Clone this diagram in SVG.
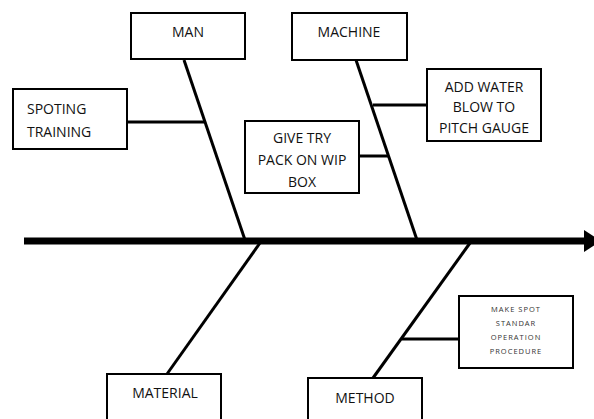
<svg xmlns="http://www.w3.org/2000/svg" width="594" height="419" viewBox="0 0 594 419">
<style>
.box{fill:#fff;stroke:#000;stroke-width:2}
.t{font-family:"Open Sans","Liberation Sans",sans-serif;font-size:14px;fill:#111;text-anchor:middle}
.s{font-family:"Open Sans","Liberation Sans",sans-serif;font-size:7.5px;letter-spacing:1px;fill:#333;text-anchor:middle}
.ln{stroke:#000;stroke-width:3;fill:none}
</style>
<rect width="594" height="419" fill="#fff"/>
<g id="connectors">
<line x1="24" y1="241" x2="586" y2="241" stroke="#000" stroke-width="7"/>
<path d="M584,230 L601,241 L584,252 z" fill="#000"/>
<line class="ln" x1="184" y1="60" x2="245" y2="240"/>
<line class="ln" x1="356" y1="60" x2="417" y2="240"/>
<line class="ln" x1="260" y1="243" x2="167" y2="374"/>
<line class="ln" x1="470" y1="243" x2="373" y2="378"/>
<line class="ln" x1="127" y1="122" x2="204" y2="122"/>
<line class="ln" x1="359" y1="156" x2="388" y2="156"/>
<line class="ln" x1="373" y1="105" x2="427" y2="105"/>
<line class="ln" x1="402" y1="339" x2="459" y2="339"/>
</g>
<g id="man"><rect class="box" x="131" y="13" width="114" height="46"/><text class="t" x="188" y="37">MAN</text></g>
<g id="machine"><rect class="box" x="292" y="13" width="115" height="47"/><text class="t" x="349" y="37">MACHINE</text></g>
<g id="spoting"><rect class="box" x="13" y="89" width="114" height="60"/><text class="t" x="27" y="114" style="text-anchor:start">SPOTING</text><text class="t" x="27" y="137" style="text-anchor:start">TRAINING</text></g>
<g id="givetry"><rect class="box" x="245" y="121" width="114" height="72"/><text class="t" x="302" y="143">GIVE TRY</text><text class="t" x="302" y="165">PACK ON WIP</text><text class="t" x="302" y="187">BOX</text></g>
<g id="addwater"><rect class="box" x="427" y="69" width="114" height="72"/><text class="t" x="484" y="92">ADD WATER</text><text class="t" x="484" y="112">BLOW TO</text><text class="t" x="484" y="133">PITCH GAUGE</text></g>
<g id="material"><rect class="box" x="107" y="374" width="114" height="50"/><text class="t" x="165" y="398">MATERIAL</text></g>
<g id="method"><rect class="box" x="308" y="378" width="114" height="50"/><text class="t" x="365" y="403">METHOD</text></g>
<g id="makespot"><rect class="box" x="459" y="296" width="114" height="72"/><text class="s" x="516" y="312">MAKE SPOT</text><text class="s" x="516" y="326">STANDAR</text><text class="s" x="516" y="340">OPERATION</text><text class="s" x="516" y="354">PROCEDURE</text></g>
</svg>
